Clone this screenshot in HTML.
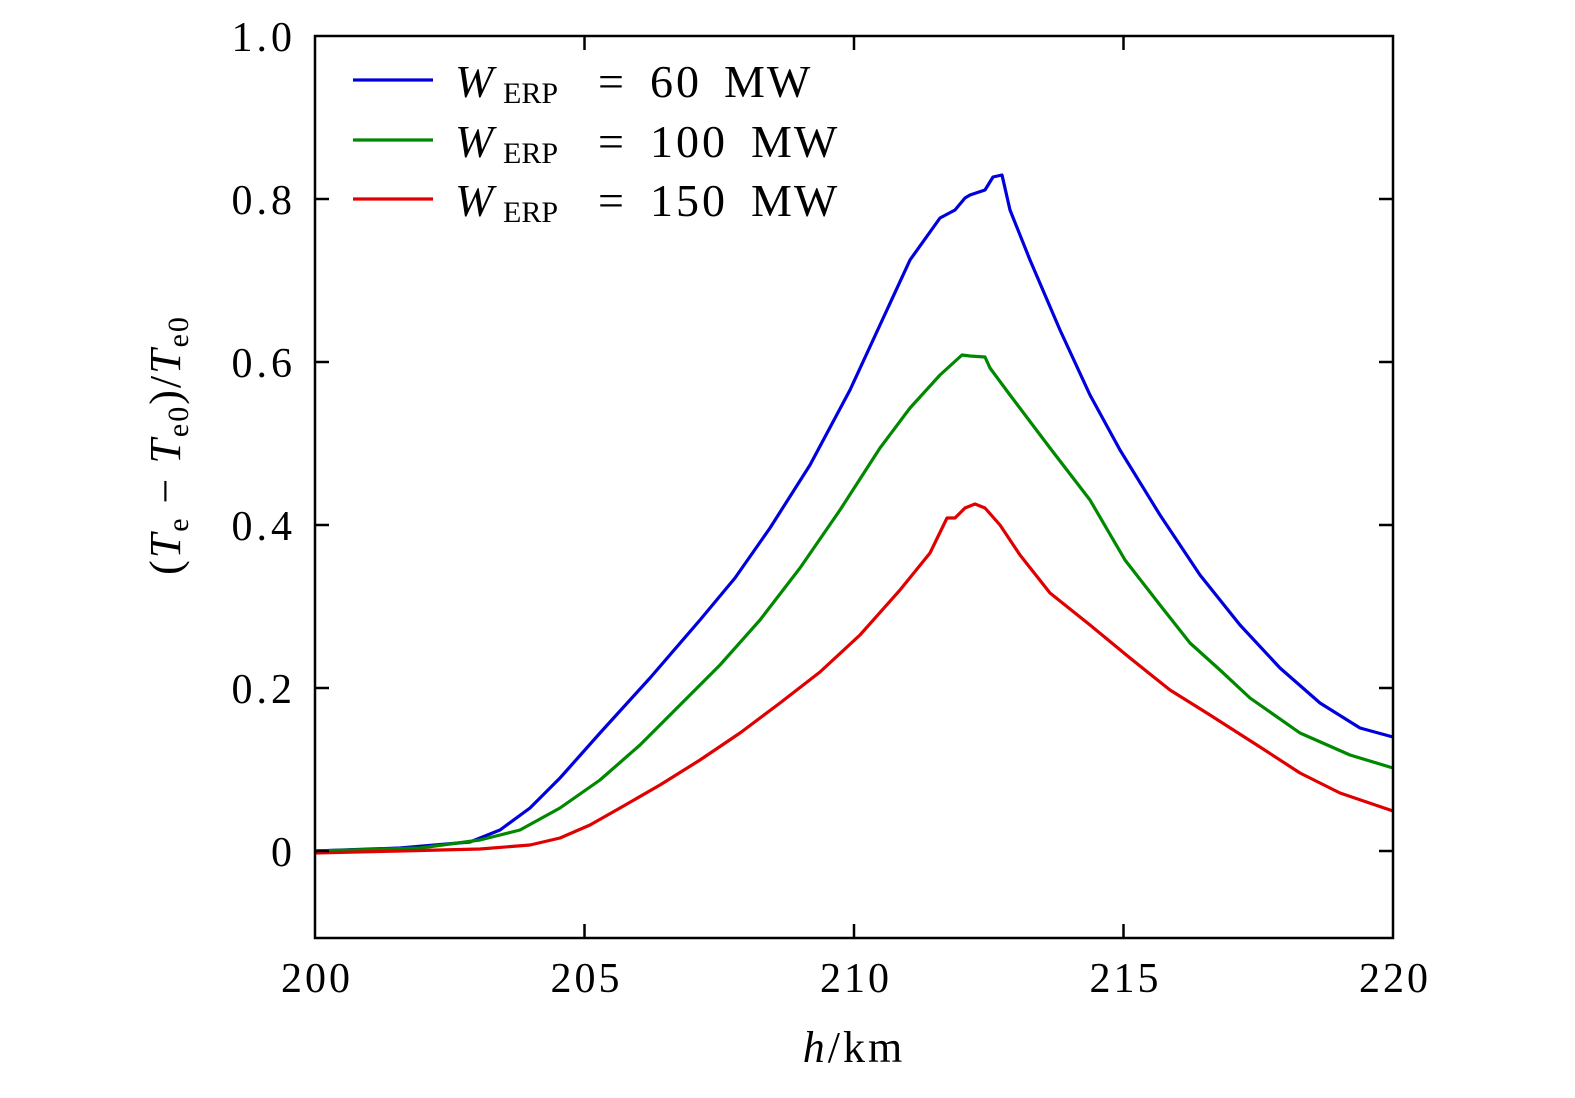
<!DOCTYPE html><html><head><style>body{margin:0;background:#fff}</style></head><body>
<svg width="1575" height="1093" xmlns="http://www.w3.org/2000/svg" font-family="Liberation Serif, serif">
<g fill="none" stroke-width="3.2" stroke-linejoin="round">
<polyline stroke="#0000dd" points="315,851 400,848 470,842 500,830 530,808 560,778 600,733 650,678 700,620 735,578 770,528 810,465 850,390 880,325 910,260 940,218 955,210 965,198 970,195 985,190 993,177 1002,175 1010,210 1030,260 1060,330 1090,395 1120,450 1160,515 1200,575 1240,625 1280,668 1320,703 1360,728 1393,737"/>
<polyline stroke="#008800" points="315,851 420,848 480,840 520,830 560,808 600,780 640,745 680,705 720,665 760,620 800,568 840,510 880,448 910,408 940,375 962,355 970,356 985,357 990,368 1010,395 1050,448 1090,500 1125,560 1160,605 1190,643 1220,670 1250,698 1300,733 1350,755 1393,768"/>
<polyline stroke="#e00000" points="315,853 400,851 480,849 530,845 560,838 590,825 620,808 660,785 700,760 740,733 780,703 820,672 860,635 900,590 930,553 947,518 955,518 965,508 975,504 985,508 1000,525 1020,555 1050,593 1090,625 1130,658 1170,690 1210,715 1260,747 1300,773 1340,793 1393,811"/>
<line x1="353" y1="80" x2="433" y2="80" stroke="#0000dd"/>
<line x1="353" y1="140" x2="433" y2="140" stroke="#008800"/>
<line x1="353" y1="199" x2="433" y2="199" stroke="#e00000"/>
</g>
<rect x="315" y="36" width="1078" height="902" fill="none" stroke="#000" stroke-width="2.5"/>
<g stroke="#000" stroke-width="2.5">
<line x1="584.5" y1="938" x2="584.5" y2="924"/><line x1="854" y1="938" x2="854" y2="924"/><line x1="1123.5" y1="938" x2="1123.5" y2="924"/>
<line x1="584.5" y1="36" x2="584.5" y2="50"/><line x1="854" y1="36" x2="854" y2="50"/><line x1="1123.5" y1="36" x2="1123.5" y2="50"/>
<line x1="315" y1="851" x2="329" y2="851"/><line x1="315" y1="688" x2="329" y2="688"/><line x1="315" y1="525" x2="329" y2="525"/><line x1="315" y1="362" x2="329" y2="362"/><line x1="315" y1="199" x2="329" y2="199"/>
<line x1="1393" y1="851" x2="1379" y2="851"/><line x1="1393" y1="688" x2="1379" y2="688"/><line x1="1393" y1="525" x2="1379" y2="525"/><line x1="1393" y1="362" x2="1379" y2="362"/><line x1="1393" y1="199" x2="1379" y2="199"/>
</g>
<g font-size="42" text-anchor="end" letter-spacing="4">
<text x="296" y="51">1.0</text><text x="296" y="214">0.8</text><text x="296" y="377">0.6</text><text x="296" y="540">0.4</text><text x="296" y="703">0.2</text><text x="296" y="866">0</text>
</g>
<g font-size="42" text-anchor="middle" letter-spacing="3">
<text x="317" y="992">200</text><text x="586.5" y="992">205</text><text x="856" y="992">210</text><text x="1125.5" y="992">215</text><text x="1395" y="992">220</text>
<text x="854" y="1062" font-size="44"><tspan font-style="italic">h</tspan>/km</text>
</g>
<text transform="translate(180,445) rotate(-90)" font-size="44" text-anchor="middle" letter-spacing="2">(<tspan font-style="italic">T</tspan><tspan font-size="30" dy="8">e</tspan><tspan dy="-8"> − </tspan><tspan font-style="italic">T</tspan><tspan font-size="30" dy="8">e0</tspan><tspan dy="-8">)/</tspan><tspan font-style="italic">T</tspan><tspan font-size="30" dy="8">e0</tspan></text>
<g font-size="46">
<text x="455" y="97" font-style="italic">W</text><text x="503" y="103" font-size="30">ERP</text><text x="598" y="97">=</text><text x="650" y="97" letter-spacing="3">60</text><text x="724" y="97" letter-spacing="2">MW</text>
<text x="455" y="157" font-style="italic">W</text><text x="503" y="163" font-size="30">ERP</text><text x="598" y="157">=</text><text x="650" y="157" letter-spacing="3">100</text><text x="751" y="157" letter-spacing="2">MW</text>
<text x="455" y="216" font-style="italic">W</text><text x="503" y="222" font-size="30">ERP</text><text x="598" y="216">=</text><text x="650" y="216" letter-spacing="3">150</text><text x="751" y="216" letter-spacing="2">MW</text>
</g>
</svg></body></html>
